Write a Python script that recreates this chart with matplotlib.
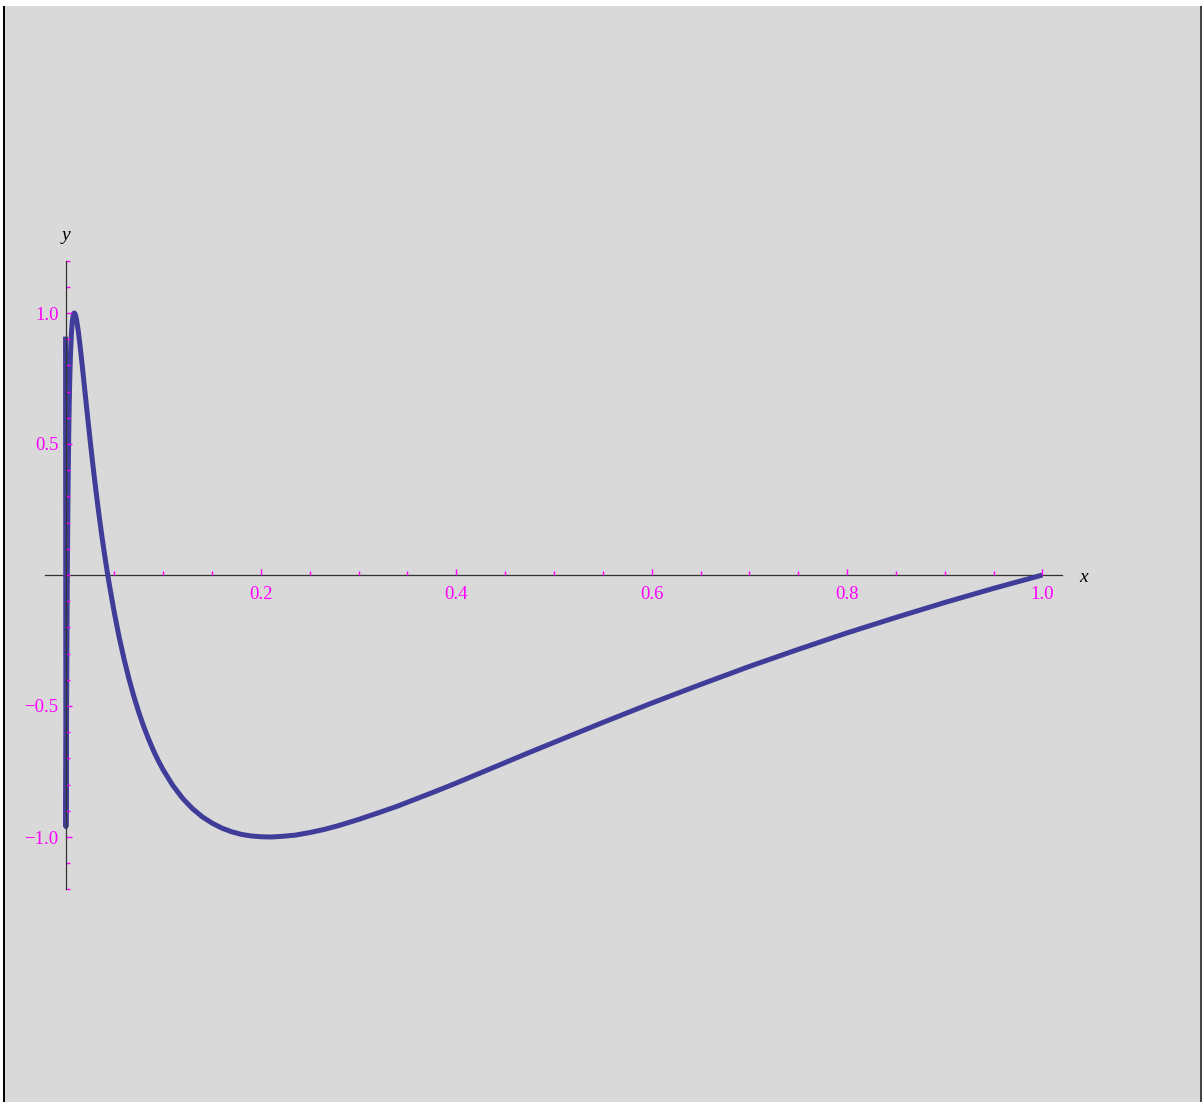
import matplotlib
matplotlib.use("Agg")
import matplotlib.pyplot as plt
from matplotlib.patches import Rectangle
from matplotlib.ticker import MultipleLocator, FixedLocator, FuncFormatter

# curve values (x from 0 to 1)
xs = [0.00005, 0.0004, 0.0007, 0.001, 0.0015, 0.002, 0.0025, 0.003, 0.0035,
      0.004, 0.0045, 0.005, 0.006, 0.007, 0.008, 0.0085, 0.009, 0.0095,
      0.010, 0.011, 0.012, 0.013, 0.014, 0.015, 0.016, 0.017, 0.018, 0.019,
      0.020, 0.0215, 0.023, 0.0245, 0.026, 0.028, 0.030, 0.0325, 0.035,
      0.0375, 0.040, 0.0425, 0.045, 0.050, 0.055, 0.06, 0.065, 0.07, 0.075,
      0.08, 0.085, 0.09, 0.095, 0.10, 0.11, 0.12, 0.13, 0.14, 0.15, 0.16,
      0.17, 0.18, 0.19, 0.20, 0.21, 0.22, 0.235, 0.25, 0.265, 0.28, 0.30,
      0.32, 0.34, 0.36, 0.38, 0.40, 0.425, 0.45, 0.475, 0.50, 0.55, 0.60,
      0.65, 0.70, 0.75, 0.80, 0.85, 0.90, 0.95, 1.00]
ys = [0.91, -0.96, -0.83, -0.585, -0.217, 0.069, 0.288, 0.457, 0.588,
      0.690, 0.770, 0.833, 0.920, 0.969, 0.993, 0.999, 1.000, 0.998,
      0.994, 0.980, 0.958, 0.933, 0.903, 0.871, 0.838, 0.803, 0.768, 0.732,
      0.696, 0.643, 0.590, 0.538, 0.487, 0.420, 0.357, 0.281, 0.209,
      0.141, 0.077, 0.017, -0.040, -0.145, -0.239, -0.322, -0.397, -0.464,
      -0.524, -0.578, -0.626, -0.670, -0.709, -0.744, -0.804, -0.853,
      -0.892, -0.923, -0.947, -0.966, -0.980, -0.990, -0.996, -0.999,
      -1.000, -0.998, -0.993, -0.983, -0.971, -0.956, -0.933, -0.908,
      -0.882, -0.853, -0.824, -0.794, -0.755, -0.716, -0.677, -0.639,
      -0.563, -0.489, -0.418, -0.349, -0.284, -0.221, -0.162, -0.105,
      -0.051, 0.0]

x_major = [0.2, 0.4, 0.6, 0.8, 1.0]
y_major = [-1.0, -0.5, 0.5, 1.0]

W, H = 1202, 1102
fig = plt.figure(figsize=(W / 100, H / 100), dpi=100, facecolor="white")

# grey panel with black left border
fig.add_artist(Rectangle((5 / W, 0), 1195 / W, (H - 6) / H,
                         transform=fig.transFigure, facecolor="#d9d9d9",
                         edgecolor="none", zorder=-10))
fig.add_artist(Rectangle((3 / W, 0), 2 / W, (H - 6) / H,
                         transform=fig.transFigure, facecolor="black",
                         edgecolor="none", zorder=-9))
fig.add_artist(Rectangle((1200 / W, 0), 2 / W, (H - 6) / H,
                         transform=fig.transFigure, facecolor="#444444",
                         edgecolor="none", zorder=-9))

ax = fig.add_axes([45 / W, (H - 889.4) / H, 1017 / W, 628.8 / H])
ax.set_facecolor("none")
ax.set_axisbelow(False)
ax.set_xlim(-0.021, 1.02)
ax.set_ylim(-1.2, 1.2)

ax.plot(xs, ys, color="#3f3d99", lw=3.6, solid_capstyle="butt",
        solid_joinstyle="round", zorder=2)

for s in ["top", "right"]:
    ax.spines[s].set_visible(False)
ax.spines["left"].set_position(("data", 0))
ax.spines["bottom"].set_position(("data", 0))
for s in ["left", "bottom"]:
    ax.spines[s].set_color("#333333")
    ax.spines[s].set_linewidth(0.9)
ax.spines["left"].set_zorder(2.6)
ax.spines["bottom"].set_zorder(1.9)

ax.xaxis.set_major_locator(FixedLocator(x_major))
ax.xaxis.set_minor_locator(MultipleLocator(0.05))
ax.yaxis.set_major_locator(FixedLocator(y_major))
ax.yaxis.set_minor_locator(MultipleLocator(0.1))

fmt = FuncFormatter(lambda v, p: ("%.1f" % v).replace("-", "\u2212"))
ax.xaxis.set_major_formatter(fmt)
ax.yaxis.set_major_formatter(fmt)

ax.tick_params(which="both", direction="in", color="magenta", width=1.0,
               labelcolor="magenta", labelsize=13.5)
ax.tick_params(which="major", length=4.5)
ax.tick_params(which="minor", length=3)
ax.tick_params(axis="x", pad=8)
ax.tick_params(axis="y", pad=5)
for lab in ax.get_xticklabels() + ax.get_yticklabels():
    lab.set_family("Liberation Serif")

ax.text(0, 1.295, "y", ha="center", va="center", family="Liberation Serif",
        style="italic", fontsize=14)
ax.text(1.0425, -0.01, "x", ha="center", va="center",
        family="Liberation Serif", style="italic", fontsize=14)

fig.savefig("out.png", dpi=100, facecolor=fig.get_facecolor())
